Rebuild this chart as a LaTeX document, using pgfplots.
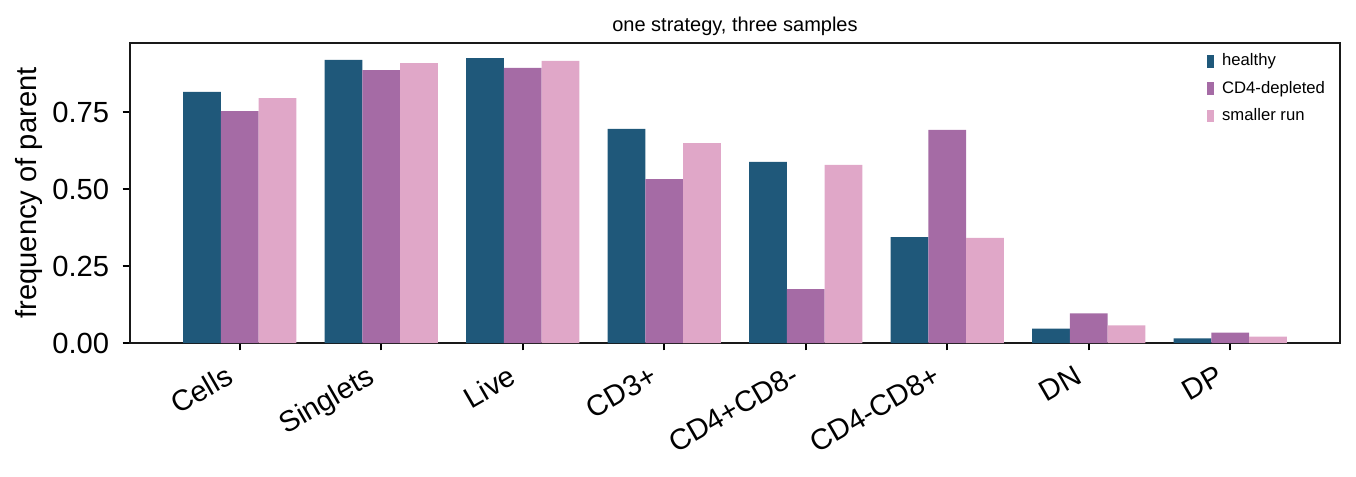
\documentclass[border=0pt]{standalone}
\usepackage{pgfplots}
\pgfplotsset{compat=1.18}
\usepackage{fontspec}
\setmainfont{Liberation Sans}
\definecolor{healthy}{RGB}{31,88,122}
\definecolor{depleted}{RGB}{165,107,165}
\definecolor{smaller}{RGB}{224,167,200}
\begin{document}
\begin{tikzpicture}
\path[use as bounding box] (-62.4pt,-63.84pt) rectangle (588.48pt,164.64pt);
\begin{axis}[
  at={(0,0)}, anchor=south west,
  scale only axis, width=580.8pt, height=144pt,
  xmin=-0.775, xmax=7.775, ymin=0, ymax=0.974,
  ybar=0pt, bar width=0.26667,
  xtick={0,...,7},
  xticklabels={Cells,Singlets,Live,CD3+,CD4+CD8-,CD4-CD8+,DN,DP},
  ytick={0,0.25,0.5,0.75},
  yticklabel style={/pgf/number format/fixed, /pgf/number format/fixed zerofill, /pgf/number format/precision=2, xshift=-3pt},
  /pgf/number format/assume math mode=true,
  tick label style={font=\fontsize{14}{16}\selectfont},
  xticklabel style={xshift=-7pt, yshift=-5pt, rotate=30, anchor=north east, inner sep=1pt},
  ylabel={frequency of parent},
  ylabel style={font=\fontsize{14}{16}\selectfont, yshift=-2pt},
  title={one strategy, three samples},
  title style={font=\fontsize{9.6}{11}\selectfont, yshift=-6pt},
  tick align=outside, tick pos=left,
  major tick length=3.5pt,
  every tick/.style={black, line width=0.8pt},
  axis line style={line width=0.8pt, black!90},
  legend style={at={(1,1)}, anchor=north east, draw=none, fill=none,
    font=\fontsize{8}{10}\selectfont, row sep=3.8pt, xshift=-3pt, yshift=-2pt,
    nodes={inner sep=1pt}},
  legend cell align=left,
  legend image code/.code={\fill (0pt,-3pt) rectangle (3.4pt,3pt);},
  legend style={/tikz/every even column/.append style={column sep=0pt}},
]
\addplot[fill=healthy, draw=none, bar shift=-0.26667] coordinates {(0,0.815) (1,0.919) (2,0.925) (3,0.695) (4,0.588) (5,0.344) (6,0.047) (7,0.015)};
\addplot[fill=depleted, draw=none, bar shift=0] coordinates {(0,0.753) (1,0.886) (2,0.893) (3,0.532) (4,0.175) (5,0.692) (6,0.096) (7,0.034)};
\addplot[fill=smaller, draw=none, bar shift=0.26667] coordinates {(0,0.795) (1,0.909) (2,0.916) (3,0.649) (4,0.578) (5,0.341) (6,0.057) (7,0.021)};
\legend{\hspace{3pt}healthy,\hspace{3pt}CD4-depleted,\hspace{3pt}smaller run}
\end{axis}
\end{tikzpicture}
\end{document}
